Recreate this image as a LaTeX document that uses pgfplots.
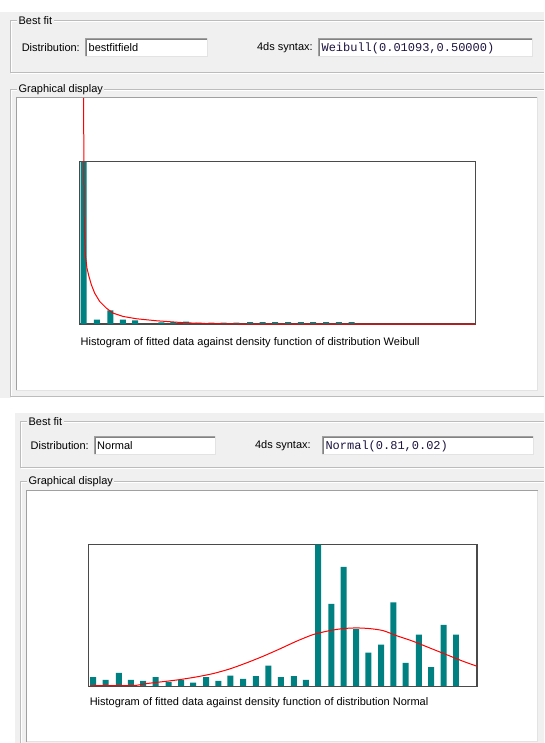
\documentclass[border=0pt]{standalone}
\usepackage{fontspec}
\setmainfont{Liberation Sans}
\newfontfamily\monof{Liberation Mono}
\usepackage{pgfplots}
\pgfplotsset{compat=1.18}
\definecolor{winbg}{HTML}{F0F0F0}
\definecolor{etch}{HTML}{BCBCBC}
\definecolor{fdark}{HTML}{828282}
\definecolor{fmid}{HTML}{A0A0A0}
\definecolor{flight}{HTML}{E3E3E3}
\definecolor{barteal}{HTML}{008080}
\definecolor{framec}{HTML}{4A4A4A}
\definecolor{monotxt}{HTML}{1E1440}
\newcommand{\field}[4]{%
  \fill[white] (#1,#2) rectangle (#3,#4);
  \draw[fmid,line width=0.75pt] (#1+0.5,#4) -- (#1+0.5,#2+0.5) -- (#3,#2+0.5);
  \draw[fdark,line width=0.75pt] (#1+1.5,#4-1) -- (#1+1.5,#2+1.5) -- (#3-1,#2+1.5);
  \draw[flight,line width=0.75pt] (#1,#4-0.5) -- (#3-0.5,#4-0.5) -- (#3-0.5,#2);
}
\begin{document}
\begin{tikzpicture}[x=0.75pt,y=-0.75pt,
  lbl/.style={font=\fontsize{8.25}{10}\selectfont, inner sep=0pt, anchor=west, text=black},
  grp/.style={font=\fontsize{8.25}{10}\selectfont, inner ysep=0pt, inner xsep=1pt, anchor=west, fill=winbg, text=black},
  mono/.style={font=\monof\fontsize{9}{10}\selectfont, inner sep=0pt, anchor=west, text=monotxt}]
% canvas
\fill[white] (0,0) rectangle (544,743);
% ================= top panel =================
\fill[winbg] (0,12.5) rectangle (544,398);
\draw[white,line width=0.75pt] (544,22) -- (11.5,22) -- (11.5,73.5) -- (544,73.5);
\draw[etch,line width=0.75pt] (544,21) -- (10.5,21) -- (10.5,72.5) -- (544,72.5);
\node[grp] at (17,21) {Best fit};
\node[lbl] at (21.5,48) {Distribution:};
\field{85.5}{38.5}{208}{57}
\node[lbl] at (88.5,48) {bestfitfield};
\node[lbl] at (257,48) {4ds syntax:};
\field{318}{38.5}{533}{57}
\node[mono] at (321.5,48.5) {Weibull(0.01093,0.50000)};
\draw[white,line width=0.75pt] (544,91) -- (11.5,91) -- (11.5,398) -- (544,398);
\draw[etch,line width=0.75pt] (544,90) -- (10.5,90) -- (10.5,397) -- (544,397);
\node[grp] at (17,90) {Graphical display};
\fill[white] (16.5,97.5) rectangle (538,391);
\draw[fmid,line width=0.75pt] (16.5,391) -- (16.5,97.5) -- (538,97.5);
\draw[flight,line width=0.75pt] (16.5,391) -- (538,391) -- (538,97.5);
\node[lbl] at (80.5,343) {Histogram of fitted data against density function of distribution Weibull};
\begin{axis}[at={(59.775pt,-243.225pt)}, anchor=south west, scale only axis,
  width=297pt, height=121.9pt, xmin=60, xmax=1247, ymin=0, ymax=487,
  xtick=\empty, ytick=\empty, clip=false,
  axis line style={draw=framec, line width=1.1pt}]
\addplot[ybar, bar width=18, fill=barteal, draw=none] coordinates {
 (72,487) (111.5,13) (152,41) (189.5,13) (226.5,11) (305,5) (341.5,6) (379.5,7)
 (417,4) (455,4) (492,4) (530,4)
 (571.5,6) (608.5,6) (646.5,6) (685.5,6) (723.5,6) (760.5,6) (799.5,6) (837.5,6) (875.5,6)};
\addplot[red, line width=0.75pt, no markers] coordinates {
 (72,678) (72.5,500) (73.3,380) (74.1,288) (77.1,208) (81.9,168) (87.9,143) (95.1,118)
 (105,93) (120,68) (140,48) (160,33) (190,23) (230,16) (290,10) (360,5) (420,2)
 (553,0) (1247,0)};
\end{axis}
% ================= bottom panel =================
\fill[winbg] (15,413) rectangle (544,743);
\draw[white,line width=0.75pt] (544,423) -- (21.5,423) -- (21.5,469) -- (544,469);
\draw[etch,line width=0.75pt] (544,422) -- (20.5,422) -- (20.5,468) -- (544,468);
\node[grp] at (27,422) {Best fit};
\node[lbl] at (30.5,446) {Distribution:};
\field{94}{436.5}{216}{455.5}
\node[lbl] at (97,446) {Normal};
\node[lbl] at (255,446) {4ds syntax:};
\field{322}{436.5}{534}{455.5}
\node[mono] at (325.5,446.5) {Normal(0.81,0.02)};
\draw[white,line width=0.75pt] (544,483) -- (21.5,483) -- (21.5,743);
\draw[etch,line width=0.75pt] (544,482) -- (20.5,482) -- (20.5,743);
\node[grp] at (27,482) {Graphical display};
\fill[white] (27,491) rectangle (538,742);
\draw[fmid,line width=0.75pt] (27,742) -- (27,491) -- (538,491);
\draw[flight,line width=0.75pt] (27,742) -- (538,742) -- (538,491);
\node[lbl] at (89.6,703) {Histogram of fitted data against density function of distribution Normal};
\begin{axis}[at={(66.225pt,-515.025pt)}, anchor=south west, scale only axis,
  width=291.75pt, height=106.3pt, xmin=25, xmax=1192, ymin=0, ymax=425,
  xtick=\empty, ytick=\empty, clip=false,
  axis line style={draw=framec, line width=1.1pt}]
\addplot[ybar, bar width=18, fill=barteal, draw=none] coordinates {
 (39.5,27) (77,19) (117,40) (153,19) (189.5,16) (227,27) (266,13) (303.5,19)
 (340,11) (379,27) (416,16) (452,32) (490,22) (528,30) (565.5,62) (603,27)
 (642,30) (678.5,19) (715,425) (755,247) (792,358) (829,172) (866,101) (904,125)
 (941,252) (978,70) (1017.5,155) (1054,57) (1092,184) (1129,155)};
\addplot[red, line width=0.75pt, no markers, smooth, tension=0.4] coordinates {
 (30,1) (65,2) (160,2) (200,8) (260,15) (300,20) (350,28) (400,38) (450,52)
 (500,70) (550,90) (600,112) (650,135) (700,155) (750,167) (790,173) (830,175)
 (870,173) (910,167) (950,152) (1000,135) (1050,115) (1100,95) (1150,75) (1192,60)};
\end{axis}
\end{tikzpicture}
\end{document}
